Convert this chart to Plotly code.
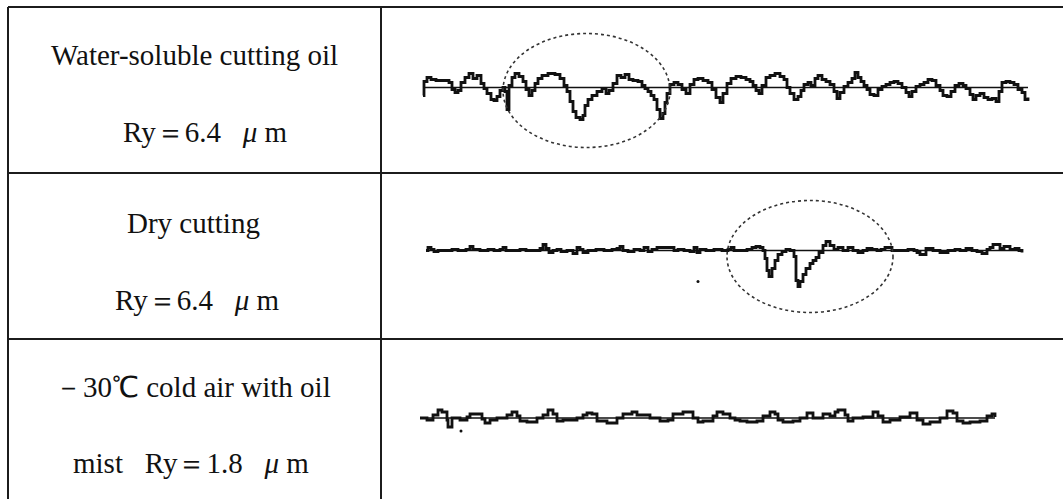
import plotly.graph_objects as go

W, H = 1063, 499

# Row labels (condition, roughness)
row_titles = ["Water-soluble cutting oil", "Dry cutting", "－30℃ cold air with oil"]
row_ry = ["Ry＝6.4 &nbsp; <i>μ</i> m", "Ry＝6.4 &nbsp; <i>μ</i> m", "mist &nbsp; Ry＝1.8 &nbsp; <i>μ</i> m"]

# Surface profiles: distance along the trace and profile height (up = positive)
wet_dist = [42, 43, 46, 50, 55, 62, 68, 71, 74, 77, 80, 84, 88, 92, 96, 100, 103, 106, 110, 113,
            116, 119, 122, 124, 126, 128, 131, 134, 138, 142, 145, 148, 151, 154, 157, 161, 167, 174,
            179, 183, 186, 189, 192, 195, 199, 202, 204, 207, 211, 216, 221, 225, 228, 232, 236, 240,
            244, 248, 252, 257, 261, 264, 267, 270, 273, 276, 279, 282, 284, 286, 289, 293, 297, 301,
            305, 309, 313, 317, 322, 327, 331, 335, 339, 342, 346, 350, 355, 360, 365, 369, 372, 375,
            378, 381, 385, 389, 394, 399, 403, 406, 409, 413, 417, 420, 423, 427, 430, 434, 437, 441,
            445, 449, 453, 456, 459, 463, 467, 471, 474, 477, 480, 483, 486, 489, 493, 497, 501, 505,
            509, 513, 517, 521, 525, 528, 531, 535, 539, 543, 547, 551, 555, 559, 562, 566, 570, 574,
            578, 582, 585, 589, 592, 595, 599, 603, 607, 611, 615, 618, 621, 625, 629, 633, 637, 641,
            644, 647]
wet_h = [-8, 6, 10, 8, 7, 7, 5, -2, -5, -3, 5, 10, 14, 9, 12, 4, -1, -6, -12, -13,
         -9, -3, 0, -4, -22, 2, 10, 14, 11, 6, -2, -8, -3, 4, 9, 12, 14, 13,
         9, 2, -4, -14, -24, -30, -32, -28, -18, -12, -8, -4, -1, -6, -3, 4, 12, 10,
         13, 8, 7, 6, 2, -1, -4, -8, -12, -22, -31, -26, -15, -6, 3, 5, 3, -2,
         -6, 3, 8, 9, 7, 5, -2, -10, -15, -6, 4, 9, 11, 10, 8, 6, 2, -3,
         -6, 2, 10, 12, 14, 11, 8, 0, -6, -12, -9, -3, 3, 5, 2, 9, 12, 8,
         6, 3, -4, -11, -5, 1, 5, 9, 15, 10, 6, 2, -2, -7, -8, -2, 1, 3,
         5, 6, 4, 0, -5, -9, -4, 1, 3, 5, 8, 7, 2, -3, -8, -9, -4, 2,
         4, 2, -1, -7, -12, -8, -6, -10, -12, -11, -14, -4, 5, 6, 5, 3, -2, -5,
         -12, -10]

dry_dist = [45, 47, 50, 53, 57, 65, 71, 77, 85, 89, 92, 99, 107, 113, 119, 122, 125, 133, 139, 145,
            153, 159, 162, 165, 168, 172, 176, 180, 186, 192, 196, 199, 202, 207, 215, 223, 231, 236,
            239, 242, 247, 253, 259, 263, 267, 271, 276, 281, 287, 293, 297, 303, 309, 313, 316, 319,
            325, 333, 341, 347, 350, 353, 359, 366, 371, 375, 379, 382, 384, 386, 388, 391, 394, 397,
            401, 405, 409, 411, 413, 415, 417, 419, 422, 425, 429, 432, 435, 438, 442, 445, 449, 453,
            457, 462, 467, 472, 477, 482, 486, 491, 496, 500, 504, 511, 519, 527, 533, 536, 539, 545,
            552, 559, 567, 574, 579, 585, 591, 596, 601, 606, 609, 612, 615, 619, 623, 629, 634, 638,
            641]
dry_h = [0, 3, 1, -1, 0, 0, 1, 0, 1, 4, 1, 0, 1, 0, 1, 3, 0, 0, 1, 0,
         0, 2, 6, 2, -2, 0, 1, -1, 0, -3, 3, 1, -2, 0, 1, 0, 1, 2,
         4, 0, -1, 1, 0, 3, -1, 1, 3, 3, 3, 0, 1, 0, -1, 3, -2, 1,
         0, 1, 0, 1, 3, 0, 0, 1, 3, 4, 3, 0, -8, -20, -26, -18, -10, -4,
         -1, 1, 0, 0, -6, -30, -36, -31, -24, -18, -13, -10, -7, -2, 5, 9, 5, 1,
         3, 0, 3, 0, -2, 0, 2, 1, 0, 1, 3, 0, 0, 1, 0, -2, -4, 2,
         0, -2, 0, 1, 0, 2, 0, -1, -3, 1, 3, 6, 6, 2, 4, 1, 2, 0,
         -2]
dry_dots_dist = [317]
dry_dots_h = [-31]

cold_dist = [39, 46, 52, 57, 61, 66, 67, 71, 79, 86, 89, 93, 97, 101, 104, 109, 116, 126, 131, 136,
             139, 146, 156, 162, 167, 172, 176, 182, 196, 202, 206, 211, 216, 226, 236, 242, 251, 256,
             269, 279, 282, 287, 292, 302, 312, 317, 322, 329, 332, 336, 342, 349, 354, 359, 366, 376,
             382, 389, 394, 397, 402, 412, 419, 426, 432, 442, 449, 454, 457, 464, 467, 472, 482, 492,
             497, 502, 509, 519, 529, 536, 542, 549, 559, 566, 572, 576, 582, 589, 599, 606, 611, 614]
cold_h = [0, -2, 3, 8, 6, -2, -9, 0, -2, 1, 4, 4, 4, -1, -5, -2, 0, 3, 6, 2,
          -3, -4, 0, 3, 8, 4, -3, -2, 0, 3, 5, 4, -3, -5, 0, 4, 6, 3,
          0, -3, -3, -2, 4, 6, 0, -4, -3, -3, 2, 6, 4, 0, -2, -3, -4, -3,
          2, 6, 4, -2, -4, -3, 0, 5, 0, 4, 2, 6, 8, 3, -3, 0, 1, 6,
          2, -4, -2, 1, 5, -2, -6, -4, 0, 7, 5, -3, -5, -4, -3, 2, 4, 1]
cold_dots_dist = [80]
cold_dots_h = [-13]

profiles = [
    (wet_dist, wet_h, [], []),
    (dry_dist, dry_h, dry_dots_dist, dry_dots_h),
    (cold_dist, cold_h, cold_dots_dist, cold_dots_h),
]

# Table geometry in pixels
left, top, col_x = 8, 7, 381
row_lines = [173, 339]
row_bounds = [(top, 173), (173, 339), (339, H)]
baselines = [87.5, 250.5, 418]
text_y = [(55, 132), (223, 300), (387, 463)]
title_cx = [194, 193, 192]
ry_cx = [205, 197, 191]

INK = "#111111"
LINE = "#1c1c1c"
FONT = dict(family="Liberation Serif", size=29, color=INK)

fig = go.Figure()
axis_names = ["y", "y2", "y3"]
for i, (d, h, dd, dh) in enumerate(profiles):
    yname = axis_names[i]
    # mean line
    fig.add_trace(go.Scatter(x=[d[0], d[-1]], y=[0, 0], mode="lines",
                             line=dict(color=INK, width=1.3), yaxis=yname, xaxis="x",
                             hoverinfo="skip", showlegend=False))
    # roughness profile
    fig.add_trace(go.Scatter(x=d, y=h, mode="lines", line=dict(color=INK, width=2.8, shape="hv"),
                             yaxis=yname, xaxis="x", showlegend=False))
    if dd:
        fig.add_trace(go.Scatter(x=dd, y=dh, mode="markers", marker=dict(color=INK, size=3),
                                 yaxis=yname, xaxis="x", showlegend=False))

# axes: one pixel per unit
layout_axes = {}
for i, (t, b) in enumerate(row_bounds):
    key = "yaxis" if i == 0 else f"yaxis{i + 1}"
    base = baselines[i]
    layout_axes[key] = dict(domain=[1 - b / H, 1 - t / H], range=[-(b - base), base - t],
                            visible=False, fixedrange=True)

shapes = []
line_style = dict(color=LINE, width=2)
shapes.append(dict(type="line", xref="paper", yref="paper", x0=left / W, x1=1, y0=1 - top / H, y1=1 - top / H, line=line_style))
shapes.append(dict(type="line", xref="paper", yref="paper", x0=left / W, x1=left / W, y0=0, y1=1 - top / H, line=line_style))
shapes.append(dict(type="line", xref="paper", yref="paper", x0=col_x / W, x1=col_x / W, y0=0, y1=1 - top / H, line=line_style))
for ry in row_lines:
    shapes.append(dict(type="line", xref="paper", yref="paper", x0=left / W, x1=1, y0=1 - ry / H, y1=1 - ry / H, line=line_style))

# dotted circles highlighting the deep grooves
ell = dict(color="#333333", width=1.6, dash="dot")
shapes.append(dict(type="circle", xref="x", yref="y", x0=122, x1=289, y0=-60, y1=54, line=ell))
shapes.append(dict(type="circle", xref="x", yref="y2", x0=346, x1=512, y0=-62, y1=50, line=ell))

annotations = []
for i in range(3):
    y1, y2 = text_y[i]
    annotations.append(dict(text=row_titles[i], x=title_cx[i] / W, y=1 - y1 / H, xref="paper", yref="paper",
                            showarrow=False, xanchor="center", yanchor="middle", font=FONT))
    annotations.append(dict(text=row_ry[i], x=ry_cx[i] / W, y=1 - y2 / H, xref="paper", yref="paper",
                            showarrow=False, xanchor="center", yanchor="middle", font=FONT))

fig.update_layout(
    width=W, height=H, margin=dict(l=0, r=0, t=0, b=0),
    paper_bgcolor="white", plot_bgcolor="white",
    xaxis=dict(domain=[col_x / W, 1], range=[0, W - col_x], visible=False, fixedrange=True),
    shapes=shapes, annotations=annotations, showlegend=False,
    **layout_axes,
)

fig.write_html("out.html")
